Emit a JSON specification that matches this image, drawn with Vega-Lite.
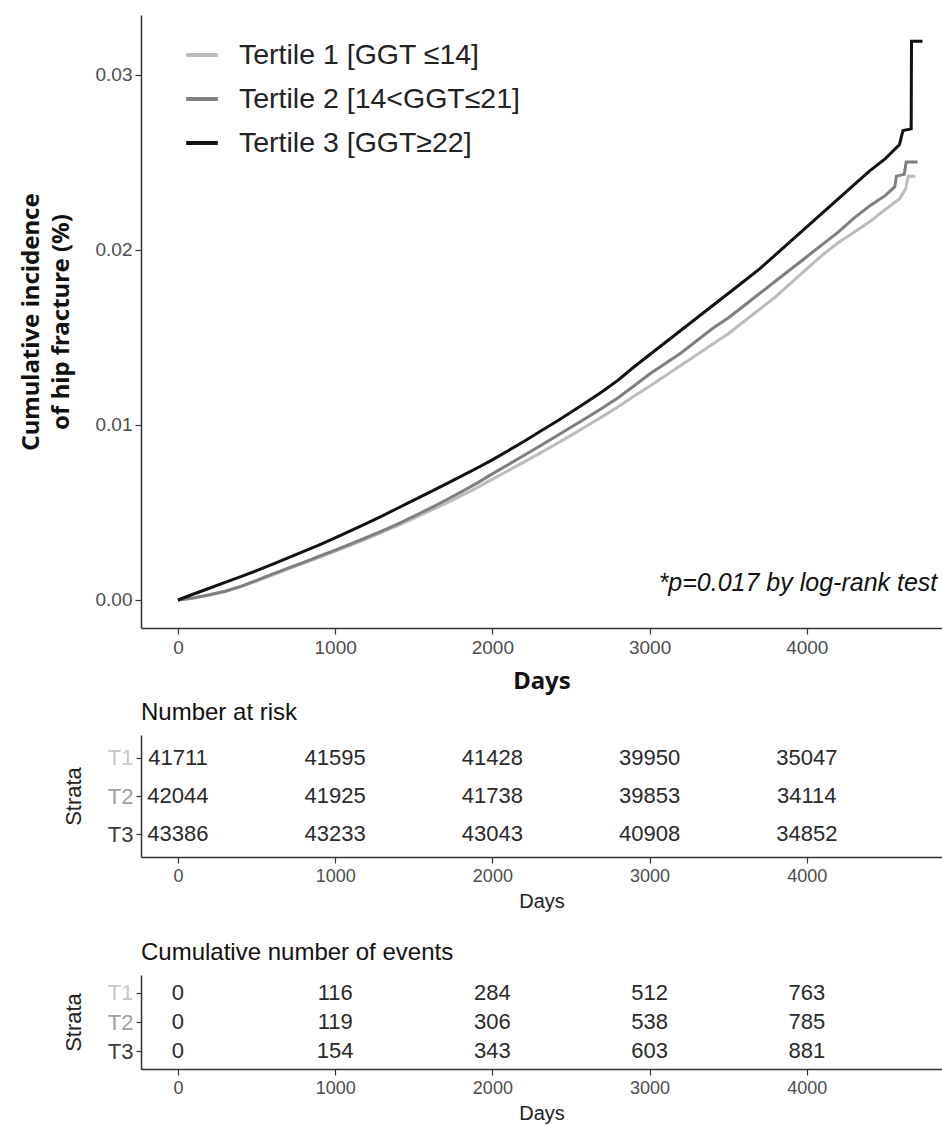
{
  "$schema": "https://vega.github.io/schema/vega-lite/v6.json",
  "padding": {"left": 19, "top": 15, "right": 0, "bottom": 5},
  "autosize": {"type": "pad"},
  "background": "white",
  "config": {
    "view": {"stroke": null},
    "font": "Liberation Sans",
    "axis": {"domainColor": "#333333", "domainWidth": 1.5, "tickColor": "#333333", "tickWidth": 1.2, "grid": false, "labelFont": "Liberation Sans", "labelColor": "#4d4d4d"}
  },
  "datasets": {
    "km": [
      {"tertile": "Tertile 1 [GGT ≤14]", "day": 0, "ci": 0},
      {"tertile": "Tertile 1 [GGT ≤14]", "day": 100, "ci": 0.0001},
      {"tertile": "Tertile 1 [GGT ≤14]", "day": 200, "ci": 0.00028},
      {"tertile": "Tertile 1 [GGT ≤14]", "day": 300, "ci": 0.00048},
      {"tertile": "Tertile 1 [GGT ≤14]", "day": 400, "ci": 0.00076},
      {"tertile": "Tertile 1 [GGT ≤14]", "day": 500, "ci": 0.00108},
      {"tertile": "Tertile 1 [GGT ≤14]", "day": 600, "ci": 0.00142},
      {"tertile": "Tertile 1 [GGT ≤14]", "day": 700, "ci": 0.00176},
      {"tertile": "Tertile 1 [GGT ≤14]", "day": 800, "ci": 0.0021},
      {"tertile": "Tertile 1 [GGT ≤14]", "day": 900, "ci": 0.00244},
      {"tertile": "Tertile 1 [GGT ≤14]", "day": 1000, "ci": 0.00278},
      {"tertile": "Tertile 1 [GGT ≤14]", "day": 1100, "ci": 0.00313},
      {"tertile": "Tertile 1 [GGT ≤14]", "day": 1200, "ci": 0.00349},
      {"tertile": "Tertile 1 [GGT ≤14]", "day": 1300, "ci": 0.00387},
      {"tertile": "Tertile 1 [GGT ≤14]", "day": 1400, "ci": 0.00426},
      {"tertile": "Tertile 1 [GGT ≤14]", "day": 1500, "ci": 0.00466},
      {"tertile": "Tertile 1 [GGT ≤14]", "day": 1600, "ci": 0.00508},
      {"tertile": "Tertile 1 [GGT ≤14]", "day": 1700, "ci": 0.0055},
      {"tertile": "Tertile 1 [GGT ≤14]", "day": 1800, "ci": 0.00594},
      {"tertile": "Tertile 1 [GGT ≤14]", "day": 1900, "ci": 0.0064},
      {"tertile": "Tertile 1 [GGT ≤14]", "day": 2000, "ci": 0.0069},
      {"tertile": "Tertile 1 [GGT ≤14]", "day": 2100, "ci": 0.00738},
      {"tertile": "Tertile 1 [GGT ≤14]", "day": 2200, "ci": 0.00787},
      {"tertile": "Tertile 1 [GGT ≤14]", "day": 2300, "ci": 0.00837},
      {"tertile": "Tertile 1 [GGT ≤14]", "day": 2400, "ci": 0.00888},
      {"tertile": "Tertile 1 [GGT ≤14]", "day": 2500, "ci": 0.0094},
      {"tertile": "Tertile 1 [GGT ≤14]", "day": 2600, "ci": 0.00993},
      {"tertile": "Tertile 1 [GGT ≤14]", "day": 2700, "ci": 0.01047},
      {"tertile": "Tertile 1 [GGT ≤14]", "day": 2800, "ci": 0.01103},
      {"tertile": "Tertile 1 [GGT ≤14]", "day": 2900, "ci": 0.01163},
      {"tertile": "Tertile 1 [GGT ≤14]", "day": 3000, "ci": 0.0122},
      {"tertile": "Tertile 1 [GGT ≤14]", "day": 3100, "ci": 0.0128},
      {"tertile": "Tertile 1 [GGT ≤14]", "day": 3200, "ci": 0.0134},
      {"tertile": "Tertile 1 [GGT ≤14]", "day": 3300, "ci": 0.014},
      {"tertile": "Tertile 1 [GGT ≤14]", "day": 3400, "ci": 0.0146},
      {"tertile": "Tertile 1 [GGT ≤14]", "day": 3500, "ci": 0.0152},
      {"tertile": "Tertile 1 [GGT ≤14]", "day": 3600, "ci": 0.0159},
      {"tertile": "Tertile 1 [GGT ≤14]", "day": 3700, "ci": 0.0166},
      {"tertile": "Tertile 1 [GGT ≤14]", "day": 3800, "ci": 0.0173},
      {"tertile": "Tertile 1 [GGT ≤14]", "day": 3900, "ci": 0.0181},
      {"tertile": "Tertile 1 [GGT ≤14]", "day": 4000, "ci": 0.0189},
      {"tertile": "Tertile 1 [GGT ≤14]", "day": 4100, "ci": 0.0197},
      {"tertile": "Tertile 1 [GGT ≤14]", "day": 4200, "ci": 0.0204},
      {"tertile": "Tertile 1 [GGT ≤14]", "day": 4300, "ci": 0.021},
      {"tertile": "Tertile 1 [GGT ≤14]", "day": 4400, "ci": 0.0216},
      {"tertile": "Tertile 1 [GGT ≤14]", "day": 4500, "ci": 0.0223},
      {"tertile": "Tertile 1 [GGT ≤14]", "day": 4590, "ci": 0.0229},
      {"tertile": "Tertile 1 [GGT ≤14]", "day": 4630, "ci": 0.0235},
      {"tertile": "Tertile 1 [GGT ≤14]", "day": 4645, "ci": 0.0242},
      {"tertile": "Tertile 1 [GGT ≤14]", "day": 4690, "ci": 0.0242},

      {"tertile": "Tertile 2 [14<GGT≤21]", "day": 0, "ci": 0},
      {"tertile": "Tertile 2 [14<GGT≤21]", "day": 100, "ci": 0.00012},
      {"tertile": "Tertile 2 [14<GGT≤21]", "day": 200, "ci": 0.0003},
      {"tertile": "Tertile 2 [14<GGT≤21]", "day": 300, "ci": 0.0005},
      {"tertile": "Tertile 2 [14<GGT≤21]", "day": 400, "ci": 0.00078},
      {"tertile": "Tertile 2 [14<GGT≤21]", "day": 500, "ci": 0.00112},
      {"tertile": "Tertile 2 [14<GGT≤21]", "day": 600, "ci": 0.00148},
      {"tertile": "Tertile 2 [14<GGT≤21]", "day": 700, "ci": 0.00182},
      {"tertile": "Tertile 2 [14<GGT≤21]", "day": 800, "ci": 0.00215},
      {"tertile": "Tertile 2 [14<GGT≤21]", "day": 900, "ci": 0.0025},
      {"tertile": "Tertile 2 [14<GGT≤21]", "day": 1000, "ci": 0.00285},
      {"tertile": "Tertile 2 [14<GGT≤21]", "day": 1100, "ci": 0.0032},
      {"tertile": "Tertile 2 [14<GGT≤21]", "day": 1200, "ci": 0.00357},
      {"tertile": "Tertile 2 [14<GGT≤21]", "day": 1300, "ci": 0.00395},
      {"tertile": "Tertile 2 [14<GGT≤21]", "day": 1400, "ci": 0.00435},
      {"tertile": "Tertile 2 [14<GGT≤21]", "day": 1500, "ci": 0.00478},
      {"tertile": "Tertile 2 [14<GGT≤21]", "day": 1600, "ci": 0.00522},
      {"tertile": "Tertile 2 [14<GGT≤21]", "day": 1700, "ci": 0.00568},
      {"tertile": "Tertile 2 [14<GGT≤21]", "day": 1800, "ci": 0.00616},
      {"tertile": "Tertile 2 [14<GGT≤21]", "day": 1900, "ci": 0.00666},
      {"tertile": "Tertile 2 [14<GGT≤21]", "day": 2000, "ci": 0.0072},
      {"tertile": "Tertile 2 [14<GGT≤21]", "day": 2100, "ci": 0.00772},
      {"tertile": "Tertile 2 [14<GGT≤21]", "day": 2200, "ci": 0.00825},
      {"tertile": "Tertile 2 [14<GGT≤21]", "day": 2300, "ci": 0.00878},
      {"tertile": "Tertile 2 [14<GGT≤21]", "day": 2400, "ci": 0.00932},
      {"tertile": "Tertile 2 [14<GGT≤21]", "day": 2500, "ci": 0.00986},
      {"tertile": "Tertile 2 [14<GGT≤21]", "day": 2600, "ci": 0.0104},
      {"tertile": "Tertile 2 [14<GGT≤21]", "day": 2700, "ci": 0.01096},
      {"tertile": "Tertile 2 [14<GGT≤21]", "day": 2800, "ci": 0.01155},
      {"tertile": "Tertile 2 [14<GGT≤21]", "day": 2900, "ci": 0.01222},
      {"tertile": "Tertile 2 [14<GGT≤21]", "day": 3000, "ci": 0.0129},
      {"tertile": "Tertile 2 [14<GGT≤21]", "day": 3100, "ci": 0.0135},
      {"tertile": "Tertile 2 [14<GGT≤21]", "day": 3200, "ci": 0.0141},
      {"tertile": "Tertile 2 [14<GGT≤21]", "day": 3300, "ci": 0.0148},
      {"tertile": "Tertile 2 [14<GGT≤21]", "day": 3400, "ci": 0.0155},
      {"tertile": "Tertile 2 [14<GGT≤21]", "day": 3500, "ci": 0.0161},
      {"tertile": "Tertile 2 [14<GGT≤21]", "day": 3600, "ci": 0.0168},
      {"tertile": "Tertile 2 [14<GGT≤21]", "day": 3700, "ci": 0.0175},
      {"tertile": "Tertile 2 [14<GGT≤21]", "day": 3800, "ci": 0.0182},
      {"tertile": "Tertile 2 [14<GGT≤21]", "day": 3900, "ci": 0.0189},
      {"tertile": "Tertile 2 [14<GGT≤21]", "day": 4000, "ci": 0.0196},
      {"tertile": "Tertile 2 [14<GGT≤21]", "day": 4100, "ci": 0.0203},
      {"tertile": "Tertile 2 [14<GGT≤21]", "day": 4200, "ci": 0.021},
      {"tertile": "Tertile 2 [14<GGT≤21]", "day": 4300, "ci": 0.0218},
      {"tertile": "Tertile 2 [14<GGT≤21]", "day": 4400, "ci": 0.0225},
      {"tertile": "Tertile 2 [14<GGT≤21]", "day": 4500, "ci": 0.0231},
      {"tertile": "Tertile 2 [14<GGT≤21]", "day": 4560, "ci": 0.0236},
      {"tertile": "Tertile 2 [14<GGT≤21]", "day": 4570, "ci": 0.0242},
      {"tertile": "Tertile 2 [14<GGT≤21]", "day": 4620, "ci": 0.0243},
      {"tertile": "Tertile 2 [14<GGT≤21]", "day": 4632, "ci": 0.025},
      {"tertile": "Tertile 2 [14<GGT≤21]", "day": 4705, "ci": 0.025},

      {"tertile": "Tertile 3 [GGT≥22]", "day": 0, "ci": 0},
      {"tertile": "Tertile 3 [GGT≥22]", "day": 100, "ci": 0.00034},
      {"tertile": "Tertile 3 [GGT≥22]", "day": 200, "ci": 0.00067},
      {"tertile": "Tertile 3 [GGT≥22]", "day": 300, "ci": 0.001},
      {"tertile": "Tertile 3 [GGT≥22]", "day": 400, "ci": 0.00133},
      {"tertile": "Tertile 3 [GGT≥22]", "day": 500, "ci": 0.00168},
      {"tertile": "Tertile 3 [GGT≥22]", "day": 600, "ci": 0.00203},
      {"tertile": "Tertile 3 [GGT≥22]", "day": 700, "ci": 0.0024},
      {"tertile": "Tertile 3 [GGT≥22]", "day": 800, "ci": 0.00277},
      {"tertile": "Tertile 3 [GGT≥22]", "day": 900, "ci": 0.00315},
      {"tertile": "Tertile 3 [GGT≥22]", "day": 1000, "ci": 0.00355},
      {"tertile": "Tertile 3 [GGT≥22]", "day": 1100, "ci": 0.00396},
      {"tertile": "Tertile 3 [GGT≥22]", "day": 1200, "ci": 0.00437},
      {"tertile": "Tertile 3 [GGT≥22]", "day": 1300, "ci": 0.0048},
      {"tertile": "Tertile 3 [GGT≥22]", "day": 1400, "ci": 0.00525},
      {"tertile": "Tertile 3 [GGT≥22]", "day": 1500, "ci": 0.0057},
      {"tertile": "Tertile 3 [GGT≥22]", "day": 1600, "ci": 0.00614},
      {"tertile": "Tertile 3 [GGT≥22]", "day": 1700, "ci": 0.0066},
      {"tertile": "Tertile 3 [GGT≥22]", "day": 1800, "ci": 0.00706},
      {"tertile": "Tertile 3 [GGT≥22]", "day": 1900, "ci": 0.00752},
      {"tertile": "Tertile 3 [GGT≥22]", "day": 2000, "ci": 0.008},
      {"tertile": "Tertile 3 [GGT≥22]", "day": 2100, "ci": 0.00852},
      {"tertile": "Tertile 3 [GGT≥22]", "day": 2200, "ci": 0.00905},
      {"tertile": "Tertile 3 [GGT≥22]", "day": 2300, "ci": 0.0096},
      {"tertile": "Tertile 3 [GGT≥22]", "day": 2400, "ci": 0.01015},
      {"tertile": "Tertile 3 [GGT≥22]", "day": 2500, "ci": 0.01072},
      {"tertile": "Tertile 3 [GGT≥22]", "day": 2600, "ci": 0.0113},
      {"tertile": "Tertile 3 [GGT≥22]", "day": 2700, "ci": 0.0119},
      {"tertile": "Tertile 3 [GGT≥22]", "day": 2800, "ci": 0.01255},
      {"tertile": "Tertile 3 [GGT≥22]", "day": 2900, "ci": 0.0133},
      {"tertile": "Tertile 3 [GGT≥22]", "day": 3000, "ci": 0.0140},
      {"tertile": "Tertile 3 [GGT≥22]", "day": 3100, "ci": 0.0147},
      {"tertile": "Tertile 3 [GGT≥22]", "day": 3200, "ci": 0.0154},
      {"tertile": "Tertile 3 [GGT≥22]", "day": 3300, "ci": 0.0161},
      {"tertile": "Tertile 3 [GGT≥22]", "day": 3400, "ci": 0.0168},
      {"tertile": "Tertile 3 [GGT≥22]", "day": 3500, "ci": 0.0175},
      {"tertile": "Tertile 3 [GGT≥22]", "day": 3600, "ci": 0.0182},
      {"tertile": "Tertile 3 [GGT≥22]", "day": 3700, "ci": 0.0189},
      {"tertile": "Tertile 3 [GGT≥22]", "day": 3800, "ci": 0.0197},
      {"tertile": "Tertile 3 [GGT≥22]", "day": 3900, "ci": 0.0205},
      {"tertile": "Tertile 3 [GGT≥22]", "day": 4000, "ci": 0.0213},
      {"tertile": "Tertile 3 [GGT≥22]", "day": 4100, "ci": 0.0221},
      {"tertile": "Tertile 3 [GGT≥22]", "day": 4200, "ci": 0.0229},
      {"tertile": "Tertile 3 [GGT≥22]", "day": 4300, "ci": 0.0237},
      {"tertile": "Tertile 3 [GGT≥22]", "day": 4400, "ci": 0.0245},
      {"tertile": "Tertile 3 [GGT≥22]", "day": 4500, "ci": 0.0252},
      {"tertile": "Tertile 3 [GGT≥22]", "day": 4590, "ci": 0.026},
      {"tertile": "Tertile 3 [GGT≥22]", "day": 4600, "ci": 0.0264},
      {"tertile": "Tertile 3 [GGT≥22]", "day": 4612, "ci": 0.0268},
      {"tertile": "Tertile 3 [GGT≥22]", "day": 4664, "ci": 0.0269},
      {"tertile": "Tertile 3 [GGT≥22]", "day": 4666, "ci": 0.0319},
      {"tertile": "Tertile 3 [GGT≥22]", "day": 4736, "ci": 0.0319}
    ],
    "note": [
      {"day": 4830, "ci": 0.0005, "label": "*p=0.017 by log-rank test"}
    ],
    "risk": [
      {"strata": "T1", "day": 0, "n": 41711},
      {"strata": "T1", "day": 1000, "n": 41595},
      {"strata": "T1", "day": 2000, "n": 41428},
      {"strata": "T1", "day": 3000, "n": 39950},
      {"strata": "T1", "day": 4000, "n": 35047},
      {"strata": "T2", "day": 0, "n": 42044},
      {"strata": "T2", "day": 1000, "n": 41925},
      {"strata": "T2", "day": 2000, "n": 41738},
      {"strata": "T2", "day": 3000, "n": 39853},
      {"strata": "T2", "day": 4000, "n": 34114},
      {"strata": "T3", "day": 0, "n": 43386},
      {"strata": "T3", "day": 1000, "n": 43233},
      {"strata": "T3", "day": 2000, "n": 43043},
      {"strata": "T3", "day": 3000, "n": 40908},
      {"strata": "T3", "day": 4000, "n": 34852}
    ],
    "events": [
      {"strata": "T1", "day": 0, "n": 0},
      {"strata": "T1", "day": 1000, "n": 116},
      {"strata": "T1", "day": 2000, "n": 284},
      {"strata": "T1", "day": 3000, "n": 512},
      {"strata": "T1", "day": 4000, "n": 763},
      {"strata": "T2", "day": 0, "n": 0},
      {"strata": "T2", "day": 1000, "n": 119},
      {"strata": "T2", "day": 2000, "n": 306},
      {"strata": "T2", "day": 3000, "n": 538},
      {"strata": "T2", "day": 4000, "n": 785},
      {"strata": "T3", "day": 0, "n": 0},
      {"strata": "T3", "day": 1000, "n": 154},
      {"strata": "T3", "day": 2000, "n": 343},
      {"strata": "T3", "day": 3000, "n": 603},
      {"strata": "T3", "day": 4000, "n": 881}
    ]
  },
  "bounds": "flush",
  "spacing": 107,
  "vconcat": [
    {
      "width": 801,
      "height": 613,
      "layer": [
        {
          "data": {"name": "km"},
          "mark": {"type": "line", "strokeWidth": 3, "interpolate": "linear"},
          "encoding": {
            "x": {"field": "day", "type": "quantitative",
              "scale": {"domain": [-235, 4860], "nice": false, "zero": false},
              "axis": {"values": [0, 1000, 2000, 3000, 4000], "format": "d", "title": "Days",
                "titleFont": "Noto Sans", "titleFontWeight": "bold", "titleFontSize": 24, "titleColor": "#111111", "titlePadding": 12,
                "labelFontSize": 19, "tickSize": 6, "labelPadding": 4}},
            "y": {"field": "ci", "type": "quantitative",
              "scale": {"domain": [-0.0016, 0.0334], "nice": false, "zero": false},
              "axis": {"values": [0, 0.01, 0.02, 0.03], "format": ".2f",
                "title": ["Cumulative incidence", "of hip fracture (%)"],
                "titleFont": "Noto Sans", "titleFontWeight": "bold", "titleFontSize": 24, "titleColor": "#111111", "titleLineHeight": 30, "titlePadding": 22,
                "labelFontSize": 19, "tickSize": 6, "labelPadding": 3}},
            "color": {"field": "tertile", "type": "nominal",
              "scale": {"domain": ["Tertile 1 [GGT ≤14]", "Tertile 2 [14<GGT≤21]", "Tertile 3 [GGT≥22]"], "range": ["#bdbdbd", "#7f7f7f", "#111111"]},
              "legend": {"orient": "none", "legendX": 43, "legendY": 22, "title": null, "symbolType": "stroke", "symbolSize": 1000, "symbolStrokeWidth": 4,
                "labelFontSize": 28.5, "labelFont": "Liberation Sans", "labelColor": "#222222", "labelOffset": 19, "labelLimit": 0, "rowPadding": 11, "padding": 0}}
          }
        },
        {
          "data": {"name": "note"},
          "mark": {"type": "text", "align": "right", "baseline": "alphabetic", "fontStyle": "italic", "fontSize": 25, "font": "Liberation Sans", "color": "#111111"},
          "encoding": {
            "x": {"field": "day", "type": "quantitative"},
            "y": {"field": "ci", "type": "quantitative"},
            "text": {"field": "label"}
          }
        }
      ]
    },
    {
      "bounds": "flush",
      "spacing": 118,
      "vconcat": [
        {
          "width": 801,
          "height": 122,
          "title": {"text": "Number at risk", "anchor": "start", "frame": "group", "fontSize": 24, "fontWeight": "normal", "font": "Liberation Sans", "color": "#111111", "offset": 10},
          "data": {"name": "risk"},
          "mark": {"type": "text", "fontSize": 22, "font": "Liberation Sans", "color": "#2a2a2a"},
          "encoding": {
            "x": {"field": "day", "type": "quantitative",
              "scale": {"domain": [-235, 4860], "nice": false, "zero": false},
              "axis": {"values": [0, 1000, 2000, 3000, 4000], "format": "d", "title": "Days", "titleFontSize": 20, "titleFontWeight": "normal", "titleColor": "#222222", "titlePadding": 6,
                "labelFontSize": 18, "tickSize": 6, "labelPadding": 4}},
            "y": {"field": "strata", "type": "ordinal",
              "scale": {"type": "point", "domain": ["T1", "T2", "T3"], "padding": 0.6},
              "axis": {"title": "Strata", "titleFontSize": 22, "titleFontWeight": "normal", "titleColor": "#222222", "titlePadding": 22,
                "labelFontSize": 22, "tickSize": 5, "labelPadding": 3,
                "labelColor": {"condition": [{"test": "datum.value === 'T1'", "value": "#c8c8c8"}, {"test": "datum.value === 'T2'", "value": "#a0a0a0"}], "value": "#3c3c3c"}}},
            "text": {"field": "n", "type": "quantitative", "format": "d"}
          }
        },
        {
          "width": 801,
          "height": 94,
          "title": {"text": "Cumulative number of events", "anchor": "start", "frame": "group", "fontSize": 24, "fontWeight": "normal", "font": "Liberation Sans", "color": "#111111", "offset": 10},
          "data": {"name": "events"},
          "mark": {"type": "text", "fontSize": 22, "font": "Liberation Sans", "color": "#2a2a2a"},
          "encoding": {
            "x": {"field": "day", "type": "quantitative",
              "scale": {"domain": [-235, 4860], "nice": false, "zero": false},
              "axis": {"values": [0, 1000, 2000, 3000, 4000], "format": "d", "title": "Days", "titleFontSize": 20, "titleFontWeight": "normal", "titleColor": "#222222", "titlePadding": 6,
                "labelFontSize": 18, "tickSize": 6, "labelPadding": 4}},
            "y": {"field": "strata", "type": "ordinal",
              "scale": {"type": "point", "domain": ["T1", "T2", "T3"], "padding": 0.6},
              "axis": {"title": "Strata", "titleFontSize": 22, "titleFontWeight": "normal", "titleColor": "#222222", "titlePadding": 22,
                "labelFontSize": 22, "tickSize": 5, "labelPadding": 3,
                "labelColor": {"condition": [{"test": "datum.value === 'T1'", "value": "#c8c8c8"}, {"test": "datum.value === 'T2'", "value": "#a0a0a0"}], "value": "#3c3c3c"}}},
            "text": {"field": "n", "type": "quantitative", "format": "d"}
          }
        }
      ]
    }
  ]
}
